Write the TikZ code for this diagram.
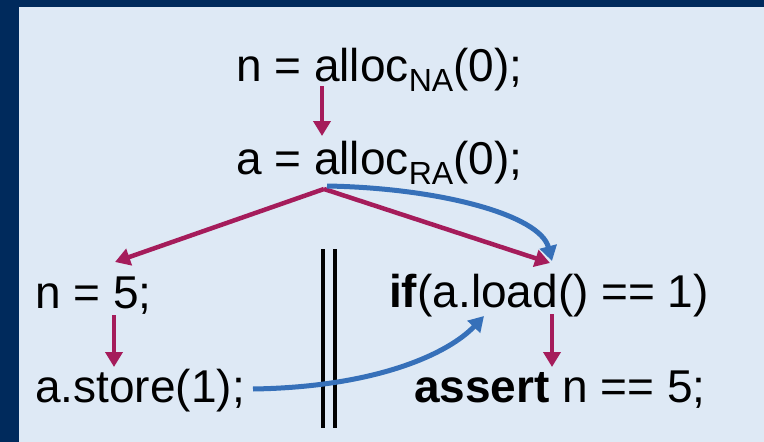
\documentclass[tikz,border=0pt]{standalone}
\usepackage{fontspec}
\setmainfont{Liberation Sans}
\usetikzlibrary{arrows.meta}
\definecolor{navy}{HTML}{002A5C}
\definecolor{paper}{HTML}{DEE9F5}
\definecolor{crim}{HTML}{A51C5B}
\definecolor{sblue}{HTML}{3670B9}
\newcommand{\bigtxt}{\fontsize{46}{55}\selectfont}
\newcommand{\subtxt}[1]{\raisebox{-10pt}{\fontsize{32}{32}\selectfont #1}}
\begin{document}
\begin{tikzpicture}[x=1pt,y=-1pt,
  code/.style={anchor=base west,inner sep=0pt,font=\bigtxt,text=black},
  sb/.style={line width=4.5pt,draw=crim,-{Triangle[width=17pt,length=15pt]}},
  hb/.style={line width=5pt,draw=sblue,-{Triangle[width=17pt,length=15pt]}},
  bar/.style={line width=4pt,draw=black}]
\useasboundingbox (0,0) rectangle (764,442);
\fill[navy] (0,0) rectangle (764,442);
\fill[paper] (19,7) rectangle (764,442);
% texts
\node[code] (l1) at (236,81) {n = alloc\subtxt{NA}(0);};
\node[code] (l2) at (236,174) {a = alloc\subtxt{RA}(0);};
\node[code] (t1a) at (35,308) {n = 5;};
\node[code] (t1b) at (35,402) {a.store(1);};
\node[code] (t2a) at (389,307) {\textbf{if}(a.load() == 1)};
\node[code] (t2b) at (414,402) {\textbf{assert} n == 5;};
% anchor points
\coordinate (l1s) at (322,86);
\coordinate (l2t) at (322,136);
\coordinate (l2s) at (324,189);
\coordinate (l2h) at (327,186);
\coordinate (t1at) at (115,262);
\coordinate (t1as) at (114,315);
\coordinate (t1bt) at (114,367);
\coordinate (t1bs) at (253,389);
\coordinate (t2at) at (550,263);
\coordinate (t2ah) at (552,261);
\coordinate (t2al) at (484,316);
\coordinate (t2as) at (552,314);
\coordinate (t2bt) at (552,367);
% separator
\draw[bar] (323,249) -- (323,428);
\draw[bar] (335,249) -- (335,428);
% sb edges
\draw[sb] (l1s) -- (l2t);
\draw[sb] (l2s) -- (t1at);
\draw[sb] (l2s) -- (t2at);
\draw[sb] (t1as) -- (t1bt);
\draw[sb] (t2as) -- (t2bt);
% hb edges
\draw[hb] (l2h) .. controls (440,188) and (540,215) .. (t2ah);
\draw[hb] (t1bs) .. controls (380,387) and (450,352) .. (t2al);
\end{tikzpicture}
\end{document}
